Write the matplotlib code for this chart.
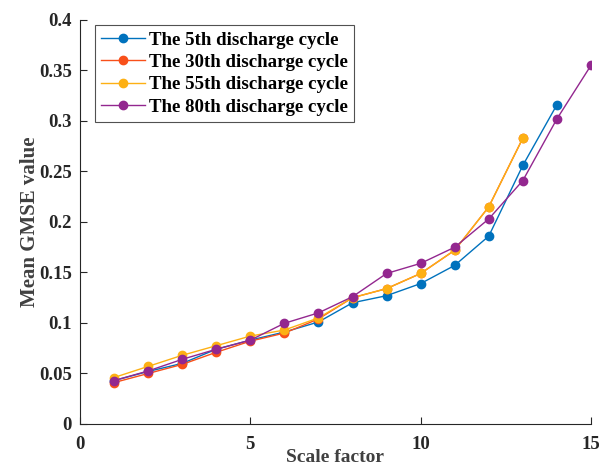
import matplotlib
matplotlib.use('Agg')
import matplotlib.pyplot as plt

# values
scale_5 = list(range(1, 15))
gmse_5 = [0.043, 0.052, 0.060, 0.074, 0.083, 0.091, 0.101, 0.120, 0.127, 0.139,
          0.157, 0.186, 0.256, 0.316]
scale_30 = list(range(1, 14))
gmse_30 = [0.041, 0.050, 0.059, 0.071, 0.082, 0.090, 0.104, 0.125, 0.134, 0.149,
           0.172, 0.215, 0.283]
scale_55 = list(range(1, 14))
gmse_55 = [0.046, 0.057, 0.068, 0.0775, 0.087, 0.093, 0.105, 0.125, 0.134, 0.149,
           0.172, 0.215, 0.283]
scale_80 = list(range(1, 16))
gmse_80 = [0.043, 0.0525, 0.064, 0.074, 0.083, 0.0997, 0.110, 0.126, 0.149, 0.159,
           0.175, 0.203, 0.241, 0.302, 0.355]

labels = ['The 5th discharge cycle', 'The 30th discharge cycle',
          'The 55th discharge cycle', 'The 80th discharge cycle']
colors = ['#0072BD', '#F8501A', '#FDB014', '#93278F']

plt.rcParams['font.family'] = ['Liberation Serif', 'DejaVu Serif']
plt.rcParams['font.weight'] = 'bold'

fig = plt.figure(figsize=(5.99, 4.65), dpi=100)
ax = fig.add_axes([0.1336, 0.0882, 0.853, 0.869])

series = [(scale_5, gmse_5), (scale_30, gmse_30), (scale_55, gmse_55), (scale_80, gmse_80)]
for (x, y), lab, c in zip(series, labels, colors):
    ax.plot(x, y, '-o', color=c, label=lab, linewidth=1.0, markersize=6)

ax.set_xlim(0, 15)
ax.set_ylim(0, 0.4)
ax.set_xticks([0, 5, 10, 15])
ax.set_yticks([0, 0.05, 0.1, 0.15, 0.2, 0.25, 0.3, 0.35, 0.4])
ax.set_yticklabels(['0', '0.05', '0.1', '0.15', '0.2', '0.25', '0.3', '0.35', '0.4'])
ax.tick_params(direction='in', labelsize=13.5, length=5, color='#262626', labelcolor='#262626')
ax.tick_params(axis='x', pad=9)
ax.tick_params(axis='y', pad=6)
for side in ['top', 'right']:
    ax.spines[side].set_visible(False)
for side in ['left', 'bottom']:
    ax.spines[side].set_color('#262626')

ax.set_xlabel('Scale factor', fontsize=14, fontweight='bold', color='#404040', labelpad=-3)
ax.set_ylabel('Mean GMSE value', fontsize=15, fontweight='bold', color='#404040', labelpad=-1)

leg = ax.legend(loc='upper left', fontsize=13.6, frameon=True, fancybox=False,
                edgecolor='#262626', handlelength=2.3, handletextpad=0.2,
                borderpad=0.35, borderaxespad=0, labelspacing=0.27,
                bbox_to_anchor=(0.029, 0.988))
leg.get_frame().set_linewidth(0.8)
for t in leg.get_texts():
    t.set_color('black')

fig.savefig('out.png', dpi=100)
